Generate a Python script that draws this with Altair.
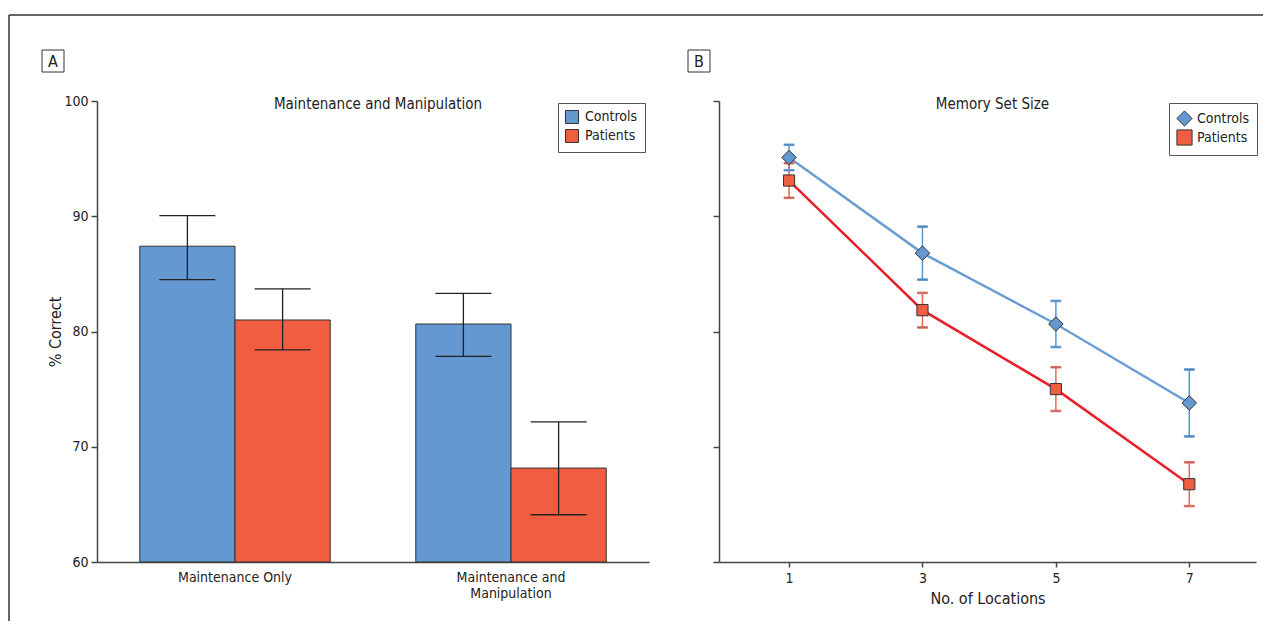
import altair as alt
import pandas as pd

# ---------------- data ----------------
conditions = ["Maintenance Only", "Maintenance and Manipulation"]
groups = ["Controls", "Patients"]
a_controls_mean = [87.4, 80.65]
a_controls_low = [84.5, 77.85]
a_controls_high = [90.05, 83.3]
a_patients_mean = [81.0, 68.15]
a_patients_low = [78.4, 64.1]
a_patients_high = [83.7, 72.15]

locations = [1, 3, 5, 7]
b_controls_mean = [95.1, 86.8, 80.65, 73.8]
b_controls_err = [1.1, 2.3, 2.0, 2.9]
b_patients_mean = [93.1, 81.85, 75.0, 66.75]
b_patients_err = [1.5, 1.5, 1.9, 1.9]

y_ticks = [60, 70, 80, 90, 100]

# ---------------- tables ----------------
rows_a = []
for i, c in enumerate(conditions):
    rows_a.append({"condition": c, "group": "Controls", "mean": a_controls_mean[i],
                   "low": a_controls_low[i], "high": a_controls_high[i]})
    rows_a.append({"condition": c, "group": "Patients", "mean": a_patients_mean[i],
                   "low": a_patients_low[i], "high": a_patients_high[i]})
df_a = pd.DataFrame(rows_a)

rows_b = []
for i, l in enumerate(locations):
    rows_b.append({"location": l, "group": "Controls", "mean": b_controls_mean[i],
                   "low": b_controls_mean[i] - b_controls_err[i],
                   "high": b_controls_mean[i] + b_controls_err[i]})
    rows_b.append({"location": l, "group": "Patients", "mean": b_patients_mean[i],
                   "low": b_patients_mean[i] - b_patients_err[i],
                   "high": b_patients_mean[i] + b_patients_err[i]})
df_b = pd.DataFrame(rows_b)

# ---------------- style ----------------
FONT = "DejaVu Sans Condensed, Roboto, Liberation Sans, sans-serif"
BAR_BLUE = "#6398d0"
BAR_RED = "#f15d40"
LINE_BLUE = "#6a9ed3"
LINE_RED = "#e8202a"
ERR_BLUE = "#5b95d0"
ERR_RED = "#f0654c"
DARK = "#333333"

WA, HA = 552, 461
WB, HB = 537, 461

one = pd.DataFrame({"k": [0]})


def panel_box(letter, x0, y0):
    box = alt.Chart(one).mark_rect(fill="white", stroke=DARK, strokeWidth=1).encode(
        x=alt.value(x0), x2=alt.value(x0 + 22), y=alt.value(y0), y2=alt.value(y0 + 22))
    txt = alt.Chart(pd.DataFrame({"t": [letter]})).mark_text(
        font=FONT, fontSize=16, color="#222", align="center", baseline="middle").encode(
        text="t:N", x=alt.value(x0 + 11), y=alt.value(y0 + 11.5))
    return box + txt


def panel_title(text, w):
    return alt.Chart(pd.DataFrame({"t": [text]})).mark_text(
        font=FONT, fontSize=15, color="#222", align="center", baseline="middle").encode(
        text="t:N", x=alt.value(w / 2 + 5), y=alt.value(3))


y_scale = alt.Scale(domain=[60, 100], nice=False, zero=False)

# ---------------- panel A ----------------
xa = alt.X("condition:N", sort=conditions,
           scale=alt.Scale(paddingInner=0.31, paddingOuter=0.155),
           axis=alt.Axis(title=None, labelAngle=0, ticks=False, labelPadding=8,
                         labelLimit=300, labelLineHeight=16,
                         labelExpr="datum.label == 'Maintenance and Manipulation' ? "
                                   "['Maintenance and', 'Manipulation'] : datum.label"))
xoff = alt.XOffset("group:N", sort=groups)

legend_a = alt.Legend(title=None, orient="none", legendX=461, legendY=2,
                      strokeColor="#555", fillColor="white", padding=7,
                      symbolType="square", symbolSize=169, symbolStrokeColor=DARK,
                      symbolStrokeWidth=1, labelFont=FONT, labelFontSize=14,
                      labelOffset=6, rowPadding=1, labelColor="#222")

bars = alt.Chart(df_a).mark_bar(stroke=DARK, strokeWidth=1).encode(
    x=xa, xOffset=xoff,
    y=alt.Y("mean:Q", scale=y_scale,
            axis=alt.Axis(values=y_ticks, title="% Correct", tickSize=6,
                          labelPadding=3, titlePadding=0, grid=False)),
    y2=alt.datum(60),
    fill=alt.Fill("group:N", sort=groups,
                  scale=alt.Scale(domain=groups, range=[BAR_BLUE, BAR_RED]),
                  legend=legend_a))

err_a = alt.Chart(df_a).mark_rule(color="#222", strokeWidth=1.3).encode(
    x=xa, xOffset=xoff, y=alt.Y("low:Q", scale=y_scale), y2="high:Q")
cap_lo_a = alt.Chart(df_a).mark_tick(orient="horizontal", size=56, thickness=1.3,
                                     color="#222", opacity=1).encode(
    x=xa, xOffset=xoff, y=alt.Y("low:Q", scale=y_scale))
cap_hi_a = alt.Chart(df_a).mark_tick(orient="horizontal", size=56, thickness=1.3,
                                     color="#222", opacity=1).encode(
    x=xa, xOffset=xoff, y=alt.Y("high:Q", scale=y_scale))

frame_top = alt.Chart(one).mark_rule(color=DARK, strokeWidth=1.5).encode(
    x=alt.value(-88), x2=alt.value(1166), y=alt.value(-86))
frame_left = alt.Chart(one).mark_rule(color=DARK, strokeWidth=1.5).encode(
    x=alt.value(-88), y=alt.value(-86), y2=alt.value(520))

panel_a = alt.layer(
    frame_top, frame_left, bars, err_a, cap_lo_a, cap_hi_a,
    panel_title("Maintenance and Manipulation", WA),
    panel_box("A", -55, -51),
).properties(width=WA, height=HA)

# ---------------- panel B ----------------
xb = alt.X("location:Q", scale=alt.Scale(domain=[-0.05, 8], nice=False, zero=False),
           axis=alt.Axis(values=locations, title="No. of Locations", tickSize=5,
                         labelPadding=4, titlePadding=5, grid=False, format="d"))
yb = alt.Y("mean:Q", scale=y_scale,
           axis=alt.Axis(values=y_ticks, labels=False, title=None, tickSize=6, grid=False))

lines = alt.Chart(df_b).mark_line(strokeWidth=2.5).encode(
    x=xb, y=yb,
    stroke=alt.Stroke("group:N", sort=groups,
                      scale=alt.Scale(domain=groups, range=[LINE_BLUE, LINE_RED]),
                      legend=None))

err_stroke = alt.Stroke("group:N", sort=groups,
                        scale=alt.Scale(domain=groups, range=[ERR_BLUE, ERR_RED]),
                        legend=None)
err_b = alt.Chart(df_b).mark_rule(strokeWidth=1.5).encode(
    x=xb, y=alt.Y("low:Q", scale=y_scale), y2="high:Q", stroke=err_stroke)
cap_lo_b = alt.Chart(df_b).mark_tick(orient="horizontal", size=10, thickness=1.5,
                                     opacity=1).encode(
    x=xb, y=alt.Y("low:Q", scale=y_scale), stroke=err_stroke)
cap_hi_b = alt.Chart(df_b).mark_tick(orient="horizontal", size=10, thickness=1.5,
                                     opacity=1).encode(
    x=xb, y=alt.Y("high:Q", scale=y_scale), stroke=err_stroke)

legend_b = alt.Legend(title=None, orient="none", legendX=450, legendY=2,
                      strokeColor="#555", fillColor="white", padding=7,
                      symbolSize=230, symbolStrokeWidth=1,
                      labelFont=FONT, labelFontSize=14, labelOffset=4, rowPadding=-2,
                      labelColor="#222")
fill_b = alt.Fill("group:N", sort=groups,
                  scale=alt.Scale(domain=groups, range=[BAR_BLUE, BAR_RED]),
                  legend=legend_b)
shape_b = alt.Shape("group:N", sort=groups,
                    scale=alt.Scale(domain=groups, range=["diamond", "square"]),
                    legend=legend_b)
outline_b = alt.Stroke("group:N", sort=groups,
                       scale=alt.Scale(domain=groups, range=[DARK, DARK]),
                       legend=legend_b)

pts_c = alt.Chart(df_b).transform_filter(alt.datum.group == "Controls").mark_point(
    filled=True, strokeWidth=1, opacity=1, size=210).encode(
    x=xb, y=yb, fill=fill_b, shape=shape_b, stroke=outline_b)
pts_p = alt.Chart(df_b).transform_filter(alt.datum.group == "Patients").mark_point(
    filled=True, strokeWidth=1, opacity=1, size=125).encode(
    x=xb, y=yb, fill=fill_b, shape=shape_b, stroke=outline_b)

lines_layer = alt.layer(lines, err_b, cap_lo_b, cap_hi_b).resolve_scale(stroke="independent")
pts_layer = alt.layer(pts_c, pts_p)

panel_b = alt.layer(
    lines_layer, pts_layer,
    panel_title("Memory Set Size", WB),
    panel_box("B", -31, -51),
).resolve_scale(
    stroke="independent", fill="independent", shape="independent"
).resolve_legend(
    stroke="independent", fill="independent", shape="independent"
).properties(width=WB, height=HB)

chart = alt.hconcat(panel_a, panel_b, spacing=70, bounds="flush").resolve_scale(
    fill="independent", shape="independent", stroke="independent"
).resolve_legend(
    fill="independent", shape="independent", stroke="independent"
).properties(
    padding={"left": 0, "top": 6, "right": 0, "bottom": 0}
).configure_view(stroke=None).configure_axis(
    labelFont=FONT, titleFont=FONT, labelFontSize=14, titleFontSize=16,
    labelColor="#222", titleColor="#222", titleFontWeight="normal",
    domainColor="#444", tickColor="#444", domainWidth=1.5, tickWidth=1.5
)

chart.save("out.html", embed_options={"renderer": "svg", "actions": False})
